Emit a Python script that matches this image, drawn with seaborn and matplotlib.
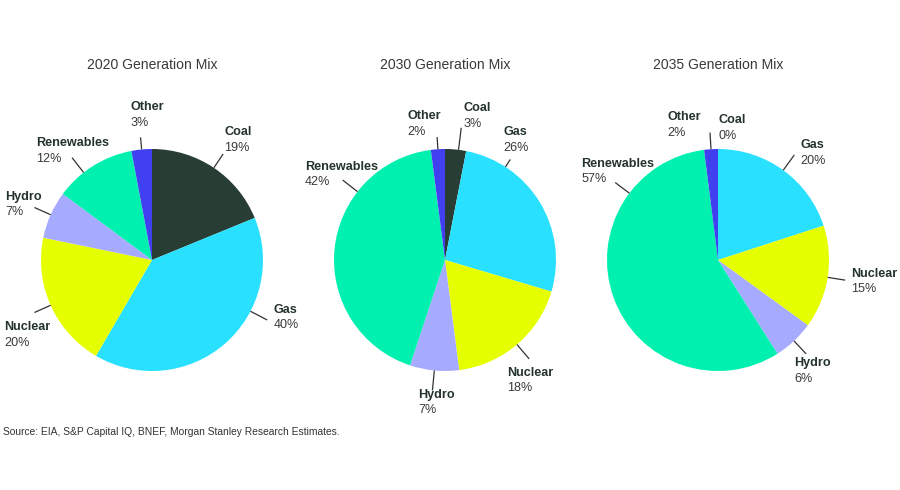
import numpy as np
import matplotlib
matplotlib.use("Agg")
import matplotlib.pyplot as plt
import seaborn as sns

# ---- data ----
categories = ["Coal", "Gas", "Nuclear", "Hydro", "Renewables", "Other"]
mix_2020 = [19, 40, 20, 7, 12, 3]
mix_2030 = [3, 26, 18, 7, 42, 2]
mix_2035 = [0, 20, 15, 6, 57, 2]
titles = ["2020 Generation Mix", "2030 Generation Mix", "2035 Generation Mix"]
source_text = "Source: EIA, S&P Capital IQ, BNEF, Morgan Stanley Research Estimates."

colors = ["#283D33", "#29E0FF", "#E6FF00", "#A7ABFF", "#00F0B0", "#4040F0"]

sns.set_theme(style="white")
plt.rcParams['font.family'] = ['Liberation Sans', 'DejaVu Sans']

fig = plt.figure(figsize=(9, 4.9), dpi=100)
ax = fig.add_axes([0, 0, 1, 1])

R = 111
centers = [(152, 230), (445, 230), (718, 230)]
title_y = 490 - 65

# label layout: category -> (line angle deg or None for mid-angle, line outer r, text x, text y) in radius units
layouts = [
    {"Coal": (None, 1.15, 0.649, 1.153), "Gas": (-27.5, 1.17, 1.099, -0.450),
     "Nuclear": (None, 1.16, -1.333, -0.604), "Hydro": (None, 1.16, -1.324, 0.568),
     "Renewables": (128, 1.17, -1.045, 1.054), "Other": (None, 1.11, -0.198, 1.378)},
    {"Coal": (83, 1.2, 0.171, 1.369), "Gas": (57, 1.08, 0.523, 1.153),
     "Nuclear": (None, 1.17, 0.559, -1.018), "Hydro": (None, 1.18, -0.243, -1.216),
     "Renewables": (142, 1.17, -1.261, 0.838), "Other": (None, 1.11, -0.342, 1.297)},
    {"Coal": ("none", 0, 0.009, 1.261), "Gas": (None, 1.17, 0.739, 1.036),
     "Nuclear": (None, 1.16, 1.198, -0.126), "Hydro": (None, 1.16, 0.685, -0.928),
     "Renewables": (143, 1.16, -1.234, 0.865), "Other": (None, 1.15, -0.459, 1.288)},
]

label_color = "#24332C"
pct_color = "#3a3a3a"

for vals, title, (cx, cy), lay in zip([mix_2020, mix_2030, mix_2035], titles, centers, layouts):
    wedges, _ = ax.pie(vals, colors=colors, startangle=90, counterclock=False,
                       center=(cx, cy), radius=R,
                       wedgeprops=dict(linewidth=0))
    ax.text(cx, title_y, title, ha='center', va='center', fontsize=10.1, color="#3a3a3a")
    for w, cat, v in zip(wedges, categories, vals):
        ang, r1, tx, ty = lay[cat]
        if ang != "none":
            if ang is None:
                ang = (w.theta1 + w.theta2) / 2.0
            a = np.deg2rad(ang)
            ax.plot([cx + R * np.cos(a), cx + r1 * R * np.cos(a)],
                    [cy + R * np.sin(a), cy + r1 * R * np.sin(a)],
                    color="#333333", lw=0.9, solid_capstyle='butt')
        x = cx + tx * R
        y = cy + ty * R
        ax.text(x, y, cat, ha='left', va='center', fontsize=9.1, fontweight='bold', color=label_color)
        ax.text(x, y - 15.5, f"{v}%", ha='left', va='center', fontsize=9.1, color=pct_color)

ax.text(3, 490 - 432, source_text, ha='left', va='center', fontsize=7.4, color="#333333")

ax.set_xlim(0, 900)
ax.set_ylim(0, 490)
ax.set_aspect('equal')
ax.axis('off')

fig.savefig("out.png", dpi=100, facecolor="white")
